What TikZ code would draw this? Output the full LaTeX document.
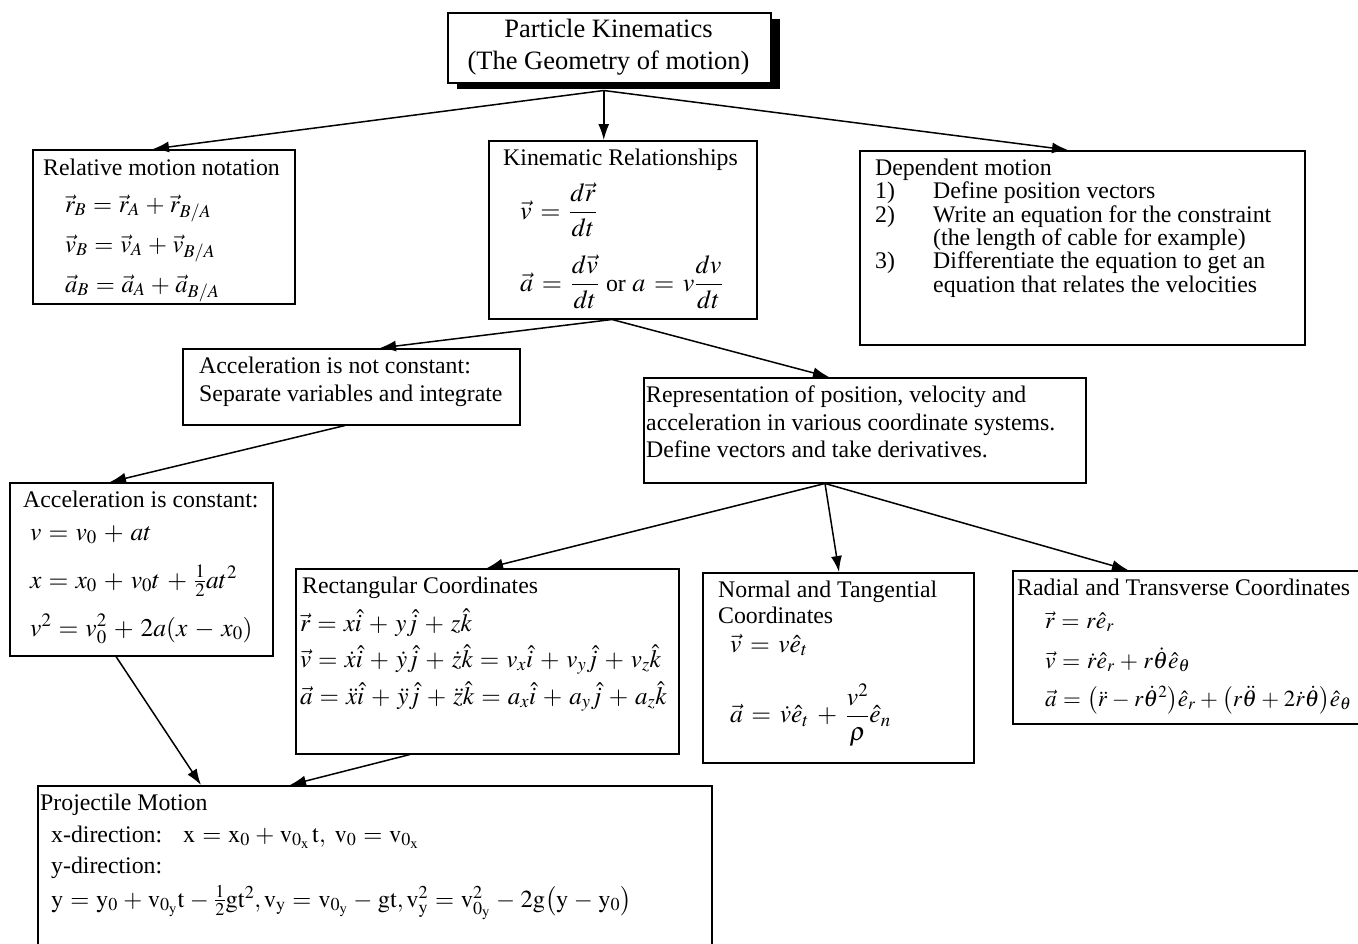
\documentclass[tikz,border=0pt]{standalone}
\usepackage{amsmath}
\usepackage{mathptmx}
\usepackage[no-math]{fontspec}
\setmainfont{Liberation Serif}
\usetikzlibrary{arrows.meta,calc}
\newcommand\fs{\fontsize{23.8}{23.8}\selectfont}
\newcommand\fmsz[3]{\fontsize{#1}{#1}\selectfont\medmuskip=#2mu\thickmuskip=#3mu}
\newcommand\fst{\fontsize{26.5}{32}\selectfont}
\tikzset{
  box/.style={draw, line width=1.5pt, fill=white, inner sep=0pt, anchor=north west},
  arr/.style={line width=1.5pt, -{Latex[length=16pt,width=11pt]}},
  txt/.style={anchor=base west, inner sep=0pt, font=\fs},
  meq/.style={anchor=base west, inner sep=0pt},
  eqn/.style={anchor=west, inner sep=0pt}
}
\begin{document}
\begin{tikzpicture}[x=1pt,y=-1pt]
\useasboundingbox (0,0) rectangle (1358,943);
\fill[white] (0,0) rectangle (1358,943);
\begin{scope}
\clip (0,0) rectangle (1358,943);
% title
\fill[black] (457,19) rectangle (780,89);
\node[box, minimum width=323pt, minimum height=70pt] (title) at (447,12) {};
\node[align=center, font=\fst, inner sep=0pt] (ttext) at (608.5,47) {Particle Kinematics\\(The Geometry of motion)};
% relative
\node[box, minimum width=262pt, minimum height=154pt] (rel) at (32,149) {};
\node[txt] (rel0) at (43,175) {Relative motion notation};
\begin{scope}[every node/.append style={font=\fmsz{24.5}{4}{5}}]
\node[meq] (rel1) at (65,212) {$\vec r_B = \vec r_A + \vec r_{B/A}$};
\node[meq] (rel2) at (65,252) {$\vec v_B = \vec v_A + \vec v_{B/A}$};
\node[meq] (rel3) at (65,292) {$\vec a_B = \vec a_A + \vec a_{B/A}$};
\end{scope}
% kinematic
\node[box, minimum width=268pt, minimum height=178pt] (kin) at (488,140) {};
\node[txt] (kin0) at (503,165) {Kinematic Relationships};
\begin{scope}[every node/.append style={font=\fmsz{26}{6}{6}}]
\node[eqn] (kin1) at (520,210) {$\vec v = \dfrac{d\vec r}{dt}$};
\node[eqn] (kin2) at (520,282) {$\vec a = \dfrac{d\vec v}{dt}$\hspace{7pt}{\fs or} $a = v\dfrac{dv}{dt}$};
\end{scope}
% dependent
\node[box, minimum width=445pt, minimum height=194pt] (dep) at (859,150) {};
\node[txt] (dep0) at (875,175) {Dependent motion};
\node[txt] (dep1n) at (875,198) {1)};
\node[txt] (dep1) at (933,198) {Define position vectors};
\node[txt] (dep2n) at (875,222) {2)};
\node[txt] (dep2) at (933,222) {Write an equation for the constraint};
\node[txt] (dep2b) at (933,245) {(the length of cable for example)};
\node[txt] (dep3n) at (875,268) {3)};
\node[txt] (dep3) at (933,268) {Differentiate the equation to get an};
\node[txt] (dep3b) at (933,292) {equation that relates the velocities};
% acceleration not constant
\node[box, minimum width=337pt, minimum height=76pt] (accn) at (182,348) {};
\node[txt] (accn1) at (199,373) {Acceleration is not constant:};
\node[txt] (accn2) at (199,401) {Separate variables and integrate};
% acceleration constant
\node[box, minimum width=263pt, minimum height=173pt] (acc) at (9,482) {};
\node[txt] (acc0) at (23,507) {Acceleration is constant:};
\begin{scope}[every node/.append style={font=\fmsz{25.5}{5}{5}}]
\node[meq] (acc1) at (30,540) {$v = v_0 + at$};
\node[meq] (acc2) at (30,588) {$x = x_0 + v_0t + \tfrac{1}{2}at^2$};
\node[meq] (acc3) at (30,636) {$v^2 = v_0^2 + 2a(x - x_0)$};
\end{scope}
% representation
\node[box, minimum width=442pt, minimum height=105pt] (rep) at (643,377) {};
\node[txt] (rep1) at (646,402) {Representation of position, velocity and};
\node[txt] (rep2) at (646,430) {acceleration in various coordinate systems.};
\node[txt] (rep3) at (646,457) {Define vectors and take derivatives.};
% rectangular
\node[box, minimum width=383pt, minimum height=185pt] (rect) at (295,568) {};
\node[txt] (rect0) at (302,593) {Rectangular Coordinates};
\begin{scope}[every node/.append style={font=\fmsz{25}{5}{5}}]
\node[meq] (rect1) at (300,631) {$\vec r = x\hat{i} + y\hat{j} + z\hat{k}$};
\node[meq] (rect2) at (300,667) {$\vec v = \dot x\hat{i} + \dot y\hat{j} + \dot z\hat{k} = v_x\hat{i} + v_y\hat{j} + v_z\hat{k}$};
\node[meq] (rect3) at (300,704) {$\vec a = \ddot x\hat{i} + \ddot y\hat{j} + \ddot z\hat{k} = a_x\hat{i} + a_y\hat{j} + a_z\hat{k}$};
\end{scope}
% normal
\node[box, minimum width=271pt, minimum height=190pt] (norm) at (702,572) {};
\node[txt] (norm0) at (718,597) {Normal and Tangential};
\node[txt] (norm0b) at (718,623) {Coordinates};
\begin{scope}[every node/.append style={font=\fmsz{25.5}{6}{6}}]
\node[meq] (norm1) at (730,652) {$\vec v = v\hat e_t$};
\node[eqn] (norm2) at (730,715) {$\vec a = \dot v\hat e_t + \dfrac{v^2}{\rho}\hat e_n$};
\end{scope}
% radial
\node[box, minimum width=360pt, minimum height=153pt] (rad) at (1012,570) {};
\node[txt] (rad0) at (1017,595) {Radial and Transverse Coordinates};
\begin{scope}[every node/.append style={font=\fmsz{23.5}{4}{5}}]
\node[meq] (rad1) at (1045,628) {$\vec r = r\hat e_r$};
\node[meq] (rad2) at (1045,668) {$\vec v = \dot r\hat e_r + r\dot\theta\hat e_\theta$};
\node[meq, font=\fmsz{23}{3.5}{5}] (rad3) at (1045,706) {$\vec a = \bigl(\ddot r - r\dot\theta^2\bigr)\hat e_r + \bigl(r\ddot\theta + 2\dot r\dot\theta\bigr)\hat e_\theta$};
\end{scope}
% projectile
\node[box, minimum width=674pt, minimum height=180pt] (proj) at (37,785) {};
\node[txt] (proj0) at (40,810) {Projectile Motion};
\node[txt] (proj1) at (51,842) {x-direction:};
\node[txt] (proj2) at (51,873) {y-direction:};
\begin{scope}[every node/.append style={font=\fmsz{24.5}{4}{5}}]
\node[meq] (proj1e) at (183,842) {$\mathrm{x = x_0 + v_{0_x}\,t,\ v_0 = v_{0_x}}$};
\node[meq] (proj3) at (51,907) {$\mathrm{y = y_0 + v_{0_y}t - \tfrac{1}{2}gt^2, v_y = v_{0_y} - gt, v_y^2 = v_{0_y}^2 - 2g\bigl(y - y_0\bigr)}$};
\end{scope}
% connectors
\coordinate (tsrc) at ($(title.south)+(-5.5,7)$);
\coordinate (ksrc) at ($(kin.south west)+(124,0)$);
\coordinate (rsrc) at ($(rep.south west)+(182,0)$);
\draw[arr] (tsrc) -- ($(rel.north west)+(121,0)$);
\draw[arr] (tsrc) -- (tsrc |- kin.north);
\draw[arr] (tsrc) -- ($(dep.north west)+(209,0)$);
\draw[arr] (ksrc) -- ($(accn.north west)+(198,0)$);
\draw[arr] (ksrc) -- ($(rep.north west)+(186,0)$);
\draw[arr] ($(accn.south west)+(163,0)$) -- ($(acc.north west)+(101,0)$);
\draw[arr] ($(acc.south west)+(107,0)$) -- ($(proj.north west)+(164,0)$);
\draw[arr] ($(rect.south west)+(115,0)$) -- ($(proj.north west)+(253,0)$);
\draw[arr] (rsrc) -- ($(rect.north west)+(192,0)$);
\draw[arr] (rsrc) -- ($(norm.north west)+(137,0)$);
\draw[arr] (rsrc) -- ($(rad.north west)+(116,0)$);
\end{scope}
\end{tikzpicture}
\end{document}
